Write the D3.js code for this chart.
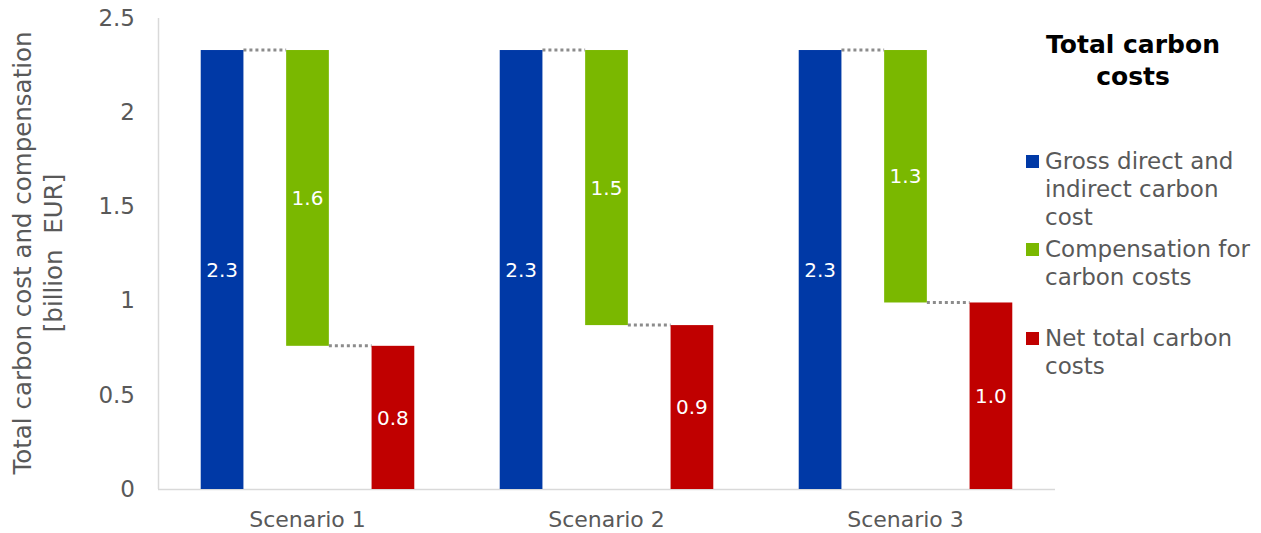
<!DOCTYPE html>
<html>
<head>
<meta charset="utf-8">
<script src="https://cdn.jsdelivr.net/npm/d3@7"></script>
<style>
  html, body { margin: 0; padding: 0; background: #fff; }
  svg { display: block; font-family: "DejaVu Sans", Verdana, sans-serif; }
</style>
</head>
<body>
<svg id="chart" width="1261" height="533"></svg>
<script>
// Scenarios shown on the x axis
const scenarios = ["Scenario 1", "Scenario 2", "Scenario 3"];
// Gross direct and indirect carbon cost per scenario [billion EUR]
const grossCost = [2.33, 2.33, 2.33];
// Compensation for carbon costs per scenario [billion EUR]
const compensation = [1.57, 1.46, 1.34];
// Net total carbon costs per scenario [billion EUR]
const netCost = [0.76, 0.87, 0.99];
// Y axis ticks
const yTicks = [0, 0.5, 1, 1.5, 2, 2.5];
// Series names for the legend
const seriesNames = ["Gross direct and indirect carbon cost", "Compensation for carbon costs", "Net total carbon costs"];
const legendLines = [["Gross direct and", "indirect carbon", "cost"], ["Compensation for", "carbon costs"], ["Net total carbon", "costs"]];
const colors = ["#0039a6", "#7ab800", "#c00000"];

const svg = d3.select("#chart");
const plot = { left: 158, right: 1055, top: 18, bottom: 489 };
const FONT = "DejaVu Sans, Verdana, sans-serif";

const x = d3.scaleBand().domain(scenarios).range([plot.left, plot.right]).padding(0);
const xInner = d3.scaleBand().domain([0, 1, 2]).range([0, x.bandwidth()]).paddingInner(0.5).paddingOuter(0.5);
const y = d3.scaleLinear().domain([0, 2.5]).range([plot.bottom, plot.top]);

// Waterfall segments: gross from 0, compensation hanging down from gross, net from 0
const segments = [];
scenarios.forEach((s, i) => {
  segments.push({ s, k: 0, y0: 0, y1: grossCost[i], v: grossCost[i] });
  segments.push({ s, k: 1, y0: grossCost[i] - compensation[i], y1: grossCost[i], v: compensation[i] });
  segments.push({ s, k: 2, y0: 0, y1: netCost[i], v: netCost[i] });
});

// Axis lines
svg.append("line")
  .attr("x1", plot.left).attr("x2", plot.right)
  .attr("y1", plot.bottom + 0.5).attr("y2", plot.bottom + 0.5)
  .attr("stroke", "#d9d9d9").attr("stroke-width", 1.5);
svg.append("line")
  .attr("x1", plot.left + 0.5).attr("x2", plot.left + 0.5)
  .attr("y1", plot.top).attr("y2", plot.bottom)
  .attr("stroke", "#d9d9d9").attr("stroke-width", 1.5);

// Y axis tick labels
const yAxis = d3.axisLeft(y).tickValues(yTicks).tickSize(0).tickPadding(23).tickFormat(d3.format("~g"));
const gy = svg.append("g").attr("transform", `translate(${plot.left},0)`).call(yAxis);
gy.select(".domain").remove();
gy.attr("font-size", 23).attr("font-family", FONT);
gy.selectAll("text").attr("fill", "#595959");

// X axis category labels
const xAxis = d3.axisBottom(x).tickSize(0).tickPadding(22);
const gx = svg.append("g").attr("transform", `translate(0,${plot.bottom})`).call(xAxis);
gx.select(".domain").remove();
gx.attr("font-size", 22).attr("font-family", FONT);
gx.selectAll("text").attr("fill", "#595959");

// Dotted connectors between consecutive bars
const conn = svg.append("g");
scenarios.forEach((s, i) => {
  const bx = k => x(s) + xInner(k);
  conn.append("line")
    .attr("x1", bx(0) + xInner.bandwidth()).attr("x2", bx(1))
    .attr("y1", y(grossCost[i])).attr("y2", y(grossCost[i]));
  conn.append("line")
    .attr("x1", bx(1) + xInner.bandwidth()).attr("x2", bx(2))
    .attr("y1", y(grossCost[i] - compensation[i])).attr("y2", y(grossCost[i] - compensation[i]));
});
conn.selectAll("line")
  .attr("stroke", "#8c8c8c").attr("stroke-width", 3).attr("stroke-dasharray", "3,3");

// Bars
svg.append("g").selectAll("rect").data(segments).join("rect")
  .attr("x", d => x(d.s) + xInner(d.k))
  .attr("width", xInner.bandwidth())
  .attr("y", d => y(d.y1))
  .attr("height", d => y(d.y0) - y(d.y1))
  .attr("fill", d => colors[d.k]);

// Value labels in the middle of each bar
svg.append("g").selectAll("text").data(segments).join("text")
  .attr("x", d => x(d.s) + xInner(d.k) + xInner.bandwidth() / 2)
  .attr("y", d => (y(d.y0) + y(d.y1)) / 2)
  .attr("dy", "0.36em")
  .attr("text-anchor", "middle")
  .attr("font-size", 20)
  .attr("fill", "#ffffff")
  .text(d => d.v.toFixed(1));

// Y axis title
const yTitle = svg.append("text")
  .attr("transform", "translate(0,253) rotate(-90)")
  .attr("text-anchor", "middle")
  .attr("font-size", 24.5)
  .attr("fill", "#595959");
yTitle.append("tspan").attr("x", 0).attr("y", 31).text("Total carbon cost and compensation");
yTitle.append("tspan").attr("x", 0).attr("y", 62).attr("xml:space", "preserve").text("[billion  EUR]");

// Legend title
const lt = svg.append("text")
  .attr("text-anchor", "middle")
  .attr("font-size", 25).attr("font-weight", "bold").attr("fill", "#000");
lt.append("tspan").attr("x", 1133).attr("y", 53).text("Total carbon");
lt.append("tspan").attr("x", 1133).attr("y", 85).text("costs");

// Legend entries
const legendBase = [169, 257, 346];
const lg = svg.append("g").selectAll("g").data(seriesNames).join("g");
lg.append("rect")
  .attr("x", 1026).attr("y", (d, i) => legendBase[i] - 14)
  .attr("width", 13).attr("height", 13)
  .attr("fill", (d, i) => colors[i]);
lg.each(function (d, i) {
  const t = d3.select(this).append("text")
    .attr("x", 1045).attr("y", legendBase[i])
    .attr("font-size", 23).attr("fill", "#595959");
  legendLines[i].forEach((line, j) => {
    t.append("tspan").attr("x", 1045).attr("y", legendBase[i] + j * 28).text(line);
  });
});
</script>
</body>
</html>
